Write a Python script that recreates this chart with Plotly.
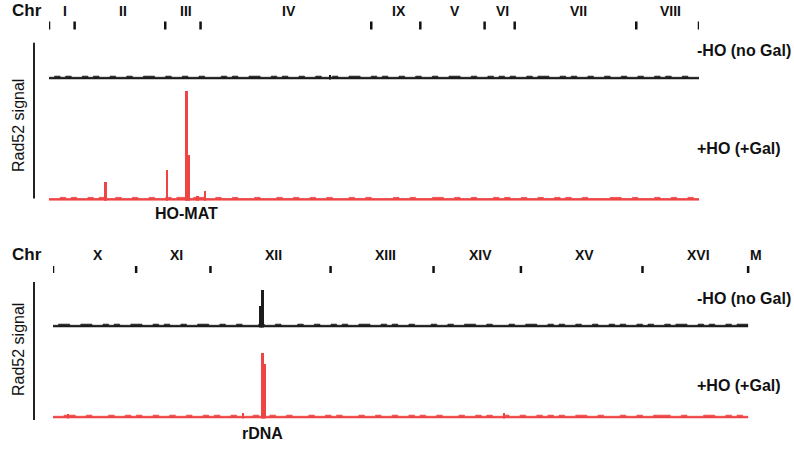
import plotly.graph_objects as go

W, H = 794, 449

# ---------------- data ----------------
# chromosome order and lengths (kb) for the two panels
top_chroms = ["I", "II", "III", "IV", "IX", "V", "VI", "VII", "VIII"]
top_lengths = [230, 813, 317, 1532, 440, 577, 270, 1091, 563]
bot_chroms = ["X", "XI", "XII", "XIII", "XIV", "XV", "XVI", "M"]
bot_lengths = [746, 667, 1078, 924, 784, 1091, 948, 86]

# genome-wide background signal (~50 kb bins, arbitrary units)
top_minus_bg = [2,3,2,3,2,2,3,2,3,2,2,3,2,2,3,2,2,3,3,2,
                2,3,2,2,3,2,2,3,2,2,2,3,2,3,2,2,3,3,2,2,
                3,2,3,2,2,3,2,2,3,2,2,3,2,2,3,3,2,2,3,2,
                3,2,2,3,2,2,3,2,2,3,2,2,3,3,2,2,3,2,2,3,
                2,3,2,3,2,2,3,2,3,3,2,2,3,2,3,2,2,3,2,2,
                3,2,2,3,2,2,3,2,2,3,2,3,2,2,3,2,2]
top_plus_bg = [2,2,3,2,3,2,2,3,2,3,2,2,3,2,2,3,2,2,3,2,
               2,3,2,3,3,2,3,3,2,2,3,2,2,3,2,2,2,3,2,2,
               2,3,2,2,3,2,2,3,2,2,3,2,2,2,3,2,2,3,2,2,
               2,2,3,2,2,3,2,2,2,3,3,2,2,3,2,2,3,2,2,2,
               3,2,3,2,2,3,2,2,3,2,2,3,2,3,2,2,3,2,2,2,
               2,3,3,2,2,3,2,2,2,3,2,2,3,2,2,3,2]
bot_minus_bg = [2,3,3,2,2,3,3,2,2,3,2,3,2,2,3,3,2,2,3,2,
                3,2,2,3,2,2,3,3,2,2,3,2,2,3,2,2,2,3,2,2,
                3,2,2,2,3,2,2,3,2,2,3,2,3,2,2,3,3,2,2,3,
                2,3,2,2,3,2,2,2,3,2,2,3,2,2,3,3,2,2,3,2,
                2,2,3,2,2,3,3,2,2,3,2,3,2,2,3,2,2,3,2,2,
                3,2,3,2,2,3,2,3,2,2,3,2,3,3,2,2,3,2,3,2,
                2,3,2,3,3]
bot_plus_bg = [2,2,3,3,2,2,3,2,2,2,3,2,2,3,2,3,2,2,3,2,
               2,3,2,2,3,2,2,3,2,3,2,2,3,2,2,2,3,2,2,3,
               2,2,3,2,2,2,3,2,2,3,2,3,2,2,2,3,2,2,3,2,
               2,3,2,2,3,2,3,2,2,3,2,2,2,3,2,2,3,2,3,2,
               2,3,2,2,3,2,2,3,2,3,2,3,2,2,3,3,2,2,3,2,
               2,2,3,2,2,3,2,2,3,3,3,2,2,3,2,2,2,3,3,2,
               2,3,2,3,2]

# discrete peaks: (chromosome, position kb, signal)
top_minus_peaks = [("IV", 1162, 4)]
top_plus_peaks = [("II", 275, 17), ("III", 16, 28), ("III", 213, 42),
                  ("III", 189, 100), ("III", 288, 4), ("IV", 40, 9)]
bot_minus_peaks = [("XII", 450, 20), ("XII", 470, 34)]
bot_plus_peaks = [("X", 135, 4.5), ("XII", 292, 5), ("XIV", 632, 5),
                  ("XII", 483, 50), ("XII", 465, 60)]

# ---------------- helpers ----------------
BLACK = "#1c1c1c"
RED = "#ef4444"
TXT = "#111111"
FONT = "Arial, Liberation Sans, sans-serif"


def offsets(chroms, lengths):
    out, acc = {}, 0
    for c, l in zip(chroms, lengths):
        out[c] = acc
        acc += l
    return out


top_off = offsets(top_chroms, top_lengths)
bot_off = offsets(bot_chroms, bot_lengths)
top_genome = sum(top_lengths)
bot_genome = sum(bot_lengths[:-1])  # signal not shown for M
bot_total = sum(bot_lengths)

px_per_kb = 650 / top_genome


def px(p):  # page pixel x -> paper
    return p / W


def py(p):  # page pixel y -> paper
    return 1 - p / H


fig = go.Figure()


def add_track(bg, peaks, off, genome, color, xa, ya):
    n = len(bg)
    xs = [i * genome / n for i in range(n)] + [genome]
    ys = list(bg) + [bg[-1]]
    fig.add_trace(go.Scatter(x=xs, y=ys, mode="lines", line_shape="hv",
                             line=dict(color=color, width=0.8), fill="tozeroy",
                             fillcolor=color, xaxis=xa, yaxis=ya,
                             hoverinfo="skip", showlegend=False))
    if peaks:
        fig.add_trace(go.Bar(x=[off[c] + p for c, p, v in peaks],
                             y=[v for c, p, v in peaks], width=26,
                             marker=dict(color=color, line=dict(width=0)),
                             xaxis=xa, yaxis=ya, showlegend=False,
                             hoverinfo="skip"))


add_track(top_minus_bg, top_minus_peaks, top_off, top_genome, BLACK, "x", "y")
add_track(top_plus_bg, top_plus_peaks, top_off, top_genome, RED, "x", "y2")
add_track(bot_minus_bg, bot_minus_peaks, bot_off, bot_genome, BLACK, "x2", "y3")
add_track(bot_plus_bg, bot_plus_peaks, bot_off, bot_genome, RED, "x2", "y4")

scale = 1.1  # px per signal unit


def yax(anchor, base_px, top_px):
    return dict(anchor=anchor, domain=[py(base_px), py(top_px)],
                range=[0, (base_px - top_px) / scale], visible=False,
                fixedrange=True)


x0_top, x0_bot = 49, 53
layout = dict(
    width=W, height=H, margin=dict(l=0, r=0, t=0, b=0),
    paper_bgcolor="white", plot_bgcolor="rgba(0,0,0,0)",
    barmode="overlay", bargap=0, showlegend=False,
    xaxis=dict(domain=[px(x0_top), px(x0_top + top_genome * px_per_kb)],
               range=[0, top_genome], visible=False, anchor="y", fixedrange=True),
    xaxis2=dict(domain=[px(x0_bot), px(x0_bot + bot_total * px_per_kb)],
                range=[0, bot_total], visible=False, anchor="y3", fixedrange=True),
    yaxis=yax("x", 79.5, 44),
    yaxis2=yax("x", 200.7, 88),
    yaxis3=yax("x2", 327.5, 285),
    yaxis4=yax("x2", 418.5, 340),
)
fig.update_layout(**layout)

shapes = []
annotations = []

# chromosome boundary ticks and labels
for chroms, lengths, xref, tick_top, tick_bot, lab_y, n_ticks in [
    (top_chroms, top_lengths, "x", 21.5, 29.5, 11, len(top_chroms) + 1),
    (bot_chroms, bot_lengths, "x2", 266, 273, 255, len(bot_chroms)),
]:
    acc = 0
    bounds = [0]
    for l in lengths:
        acc += l
        bounds.append(acc)
    for b in bounds[:n_ticks]:
        shapes.append(dict(type="line", xref=xref, yref="paper", x0=b, x1=b,
                           y0=py(tick_top), y1=py(tick_bot),
                           line=dict(color=TXT, width=2.5)))
    for c, s, e in zip(chroms, bounds[:-1], bounds[1:]):
        annotations.append(dict(text="<b>%s</b>" % c, x=(s + e) / 2, xref=xref,
                                y=py(lab_y), yref="paper", showarrow=False,
                                xanchor="center", yanchor="middle", xshift=3,
                                font=dict(family=FONT, size=14, color=TXT)))

for y in (10.5, 254.5):
    annotations.append(dict(text="<b>Chr</b>", x=px(10), xref="paper", y=py(y),
                            yref="paper", showarrow=False, xanchor="left",
                            yanchor="middle",
                            font=dict(family=FONT, size=17, color=TXT)))

# left vertical lines + y labels
for ytop, ybot, ymid in [(42.7, 198.5, 126), (282, 420, 350)]:
    shapes.append(dict(type="line", xref="paper", yref="paper", x0=px(34), x1=px(34),
                       y0=py(ytop), y1=py(ybot), line=dict(color="#222222", width=2)))
    annotations.append(dict(text="Rad52 signal", x=px(18), xref="paper", y=py(ymid),
                            yref="paper", showarrow=False, textangle=-90,
                            xanchor="center", yanchor="middle",
                            font=dict(family=FONT, size=16, color=TXT)))

# track labels
for text, y in [("-HO (no Gal)", 51), ("+HO (+Gal)", 148.5),
                ("-HO (no Gal)", 298.5), ("+HO (+Gal)", 385)]:
    annotations.append(dict(text="<b>%s</b>" % text, x=px(695), xref="paper", y=py(y),
                            yref="paper", showarrow=False, xanchor="left",
                            yanchor="middle",
                            font=dict(family=FONT, size=16, color=TXT)))

# locus labels
annotations.append(dict(text="<b>HO-MAT</b>", x=top_off["III"] + 189, xref="x",
                        y=py(213), yref="paper", showarrow=False, xanchor="center",
                        yanchor="middle", font=dict(family=FONT, size=16, color=TXT)))
annotations.append(dict(text="<b>rDNA</b>", x=bot_off["XII"] + 465, xref="x2",
                        y=py(433), yref="paper", showarrow=False, xanchor="center",
                        yanchor="middle", font=dict(family=FONT, size=16, color=TXT)))

fig.update_layout(shapes=shapes, annotations=annotations)
fig.write_html("out.html", config={"displayModeBar": False},
               post_script="document.body.style.margin='0';document.body.style.padding='0';")
